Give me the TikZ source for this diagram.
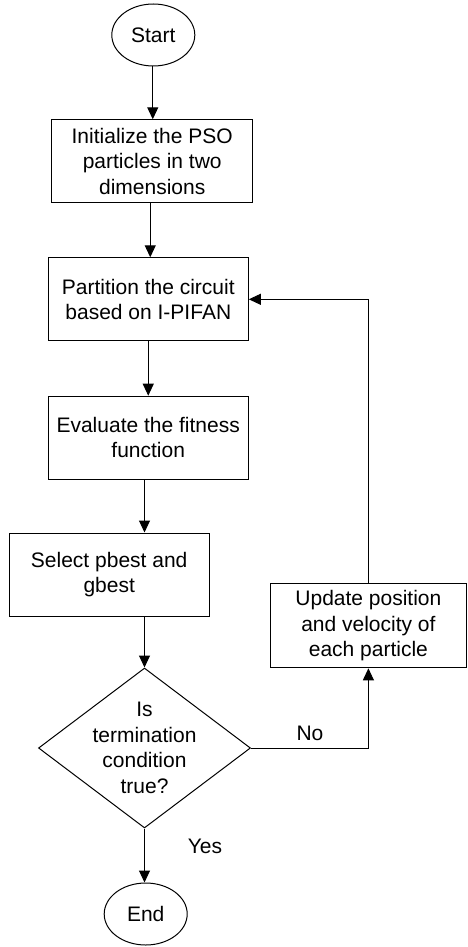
\documentclass[tikz,border=0pt]{standalone}
\usepackage{fontspec}
\setmainfont{Liberation Sans}
\usetikzlibrary{shapes.geometric,arrows.meta,calc}
\begin{document}
\begin{tikzpicture}[x=1pt,y=-1pt,
  every node/.style={font=\fontsize{21}{25.5}\selectfont},
  box/.style={draw,line width=1pt,rectangle,minimum width=200pt,minimum height=83pt,inner sep=0pt,align=center},
  term/.style={draw,line width=1pt,ellipse,minimum width=83pt,minimum height=62pt,inner sep=0pt},
  dec/.style={draw,line width=1pt,diamond,minimum width=212pt,minimum height=160pt,inner sep=0pt},
  arr/.style={draw,line width=1pt,-{Triangle[length=12pt,width=11pt]}},
  lbl/.style={inner sep=0pt,align=center}]
\useasboundingbox (0,0) rectangle (467,947);
\node[term] (start) at (153.3,35) {Start};
\node[box,minimum width=201pt] (b1) at (152.2,161.3) {Initialize the PSO\\particles in two\\dimensions};
\node[box] (b2) at (148.3,299.3) {Partition the circuit\\based on I-PIFAN};
\node[box] (b3) at (148.2,437.7) {Evaluate the fitness\\function};
\node[box,minimum width=200.3pt] (b4) at (109.2,574.5) {Select pbest and\\gbest};
\node[dec] (dia) at (144.5,748) {};
\node[lbl] (diat) at (dia.center) {Is\\termination\\condition\\true?};
\node[term] (end) at (145.7,914) {End};
\node[box,minimum width=195.3pt,minimum height=84pt] (upd) at (368.4,625.8) {Update position\\and velocity of\\each particle};
\node[lbl] (no) at (310,733) {No};
\node[lbl] (yes) at (205,846) {Yes};
\coordinate (m1) at ($(start.south)!.5!(b1.north)$);
\coordinate (m2) at ($(b1.south)!.5!(b2.north)$);
\coordinate (m3) at ($(b2.south)!.5!(b3.north)$);
\draw[arr] (m1 |- start.south) -- (m1 |- b1.north);
\draw[arr] (m2 |- b1.south) -- (m2 |- b2.north);
\draw[arr] (m3 |- b2.south) -- (m3 |- b3.north);
\draw[arr] (dia.north |- b3.south) -- (dia.north |- b4.north);
\draw[arr] (dia.north |- b4.south) -- (dia.north);
\draw[arr] (dia.south) -- (dia.south |- end.north);
\draw[arr] (dia.east) -| (upd.south);
\draw[arr] (upd.north) |- (b2.east);
\end{tikzpicture}
\end{document}
